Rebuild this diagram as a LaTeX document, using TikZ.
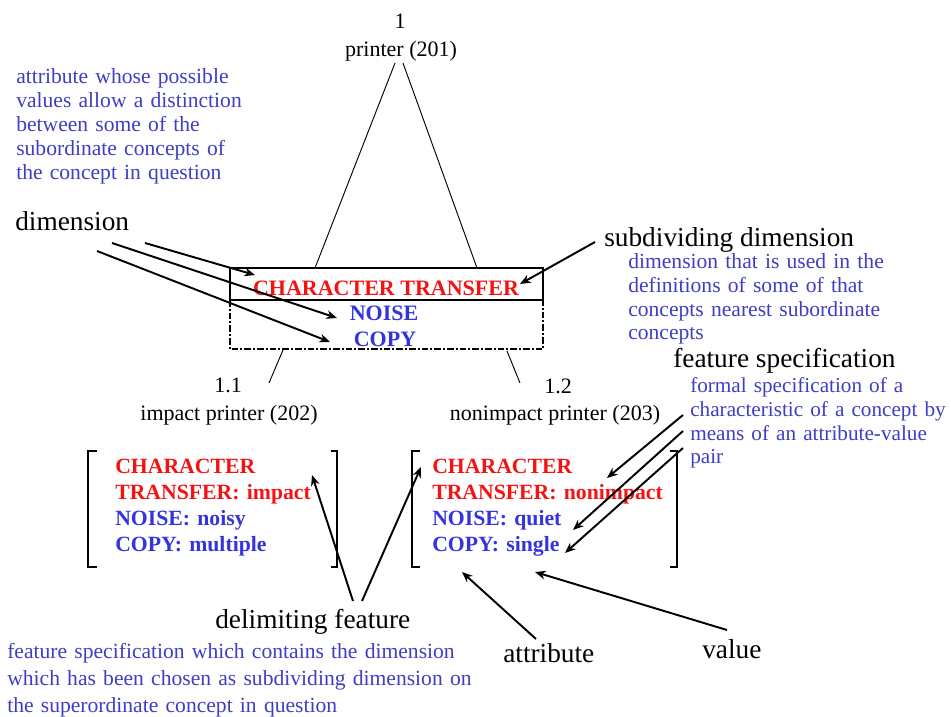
\documentclass[tikz,border=0pt]{standalone}
\usepackage{fontspec}
\setmainfont{Liberation Serif}
\usetikzlibrary{arrows.meta}
\definecolor{defblue}{RGB}{62,62,196}
\definecolor{featblue}{RGB}{52,52,222}
\definecolor{featred}{RGB}{245,18,18}
\tikzset{
  lbl/.style={inner sep=0pt, anchor=base west, font=\fontsize{20.5}{24}\selectfont},
  defn/.style={inner sep=0pt, anchor=base west, align=left, text width=#1,
    text=defblue, font=\fontsize{16.2}{18}\selectfont},
  concept/.style={inner sep=0pt, anchor=base, font=\fontsize{16.5}{18}\selectfont},
  feat/.style={inner sep=0pt, anchor=base west, align=left, text width=200pt,
    font=\fontsize{16.3}{19.7}\selectfont\bfseries},
  boxtext/.style={inner sep=0pt, anchor=base, font=\fontsize{16.5}{18}\selectfont\bfseries},
  arr/.style={line width=1.45pt, -{Stealth[length=8pt,width=6.5pt]}},
  tri/.style={line width=0.7pt},
  brk/.style={line width=0.9pt},
}
\begin{document}
\begin{tikzpicture}[x=0.75pt,y=-0.75pt]
\useasboundingbox (0,0) rectangle (951,717);

% ---- top concept and its subdivision box
\node[concept] (n1) at (400,29) {1};
\node[concept] (p201) at (401,57) {printer (201)};
\coordinate (apexL) at (395,63);
\coordinate (apexR) at (403,63);
\coordinate (footL) at (315,268);
\coordinate (footR) at (477,268);
\draw[tri] (apexL) -- (footL);
\draw[tri] (apexR) -- (footR);

\draw[line width=1.6pt] (230,268) rectangle (543,300);
\draw[line width=1pt, dash pattern=on 5pt off 1.5pt on 1.5pt off 1.5pt]
  (230,300) -- (230,349) -- (543,349) -- (543,300);
\node[boxtext, text=featred] (ct) at (386,295) {CHARACTER TRANSFER};
\node[boxtext, text=featblue] (noise) at (384,320) {NOISE};
\node[boxtext, text=featblue] (copy) at (385,346) {COPY};

% ---- subordinate concepts
\coordinate (boxL) at (283,350);
\coordinate (boxR) at (507,351);
\coordinate (subL) at (269,383);
\coordinate (subR) at (520,383);
\draw[tri] (boxL) -- (subL);
\draw[tri] (boxR) -- (subR);
\node[concept] (n11) at (228,392) {1.1};
\node[concept] (p202) at (229,420) {impact printer (202)};
\node[concept] (n12) at (558,393) {1.2};
\node[concept] (p203) at (555,420) {nonimpact printer (203)};

% ---- feature structures
\draw[brk] (97,451) -- (88,451) -- (88,567) -- (97,567);
\draw[brk] (331,451) -- (337,451) -- (337,567) -- (331,567);
\draw[brk] (420,451) -- (412,451) -- (412,567) -- (420,567);
\draw[brk] (670,451) -- (677,451) -- (677,567) -- (670,567);
\node[feat] (fsL) at (115,473) {{\color{featred}CHARACTER\\TRANSFER: impact\\}{\color{featblue}NOISE: noisy\\COPY: multiple}};
\node[feat] (fsR) at (432,473) {{\color{featred}CHARACTER\\TRANSFER: nonimpact\\}{\color{featblue}NOISE: quiet\\COPY: single}};

% ---- dimension
\node[defn=200pt] (dimdef) at (16,84) {attribute whose possible\\values allow a distinction\\between some of the\\subordinate concepts of\\the concept in question};
\node[lbl] (dim) at (15,230) {dimension};
\coordinate (dimT1) at (145,243);
\coordinate (dimT2) at (112,243);
\coordinate (dimT3) at (97,251);
\coordinate (dimH1) at (255,275);
\coordinate (dimH2) at (337,318);
\coordinate (dimH3) at (330,342);
\draw[arr] (dimT1) -- (dimH1);
\draw[arr] (dimT2) -- (dimH2);
\draw[arr] (dimT3) -- (dimH3);

% ---- subdividing dimension
\node[lbl] (subdim) at (604,247) {subdividing dimension};
\node[defn=230pt] (subdef) at (628,268) {dimension that is used in the\\definitions of some of that\\concepts nearest subordinate\\concepts};
\coordinate (subT) at (595,242);
\coordinate (subH) at (520,284);
\draw[arr] (subT) -- (subH);

% ---- feature specification
\node[lbl] (fspec) at (673,367) {feature specification};
\node[defn=200pt, font=\fontsize{15.9}{18}\selectfont] (fspecdef) at (690,392) {formal specification of a\\characteristic of a concept by\\means of an attribute-value\\pair};
\coordinate (fsT1) at (683,415);
\coordinate (fsT2) at (683,431);
\coordinate (fsT3) at (683,448);
\coordinate (fsH1) at (607,478);
\coordinate (fsH2) at (573,530);
\coordinate (fsH3) at (565,553);
\draw[arr] (fsT1) -- (fsH1);
\draw[arr] (fsT2) -- (fsH2);
\draw[arr] (fsT3) -- (fsH3);

% ---- delimiting feature
\node[lbl] (delim) at (215,628) {delimiting feature};
\node[defn=380pt, font=\fontsize{16.2}{20.25}\selectfont] (delimdef) at (7,658) {feature specification which contains the dimension\\which has been chosen as subdividing dimension on\\the superordinate concept in question};
\coordinate (delT1) at (353,601);
\coordinate (delT2) at (362,601);
\coordinate (delH1) at (312,475);
\coordinate (delH2) at (421,467);
\draw[arr] (delT1) -- (delH1);
\draw[arr] (delT2) -- (delH2);

% ---- attribute and value
\node[lbl] (attr) at (503,662) {attribute};
\node[lbl] (val) at (702,658) {value};
\coordinate (attrT) at (536,639);
\coordinate (attrH) at (462,572);
\coordinate (valT) at (727,630);
\coordinate (valH) at (535,572);
\draw[arr] (attrT) -- (attrH);
\draw[arr] (valT) -- (valH);
\end{tikzpicture}
\end{document}
